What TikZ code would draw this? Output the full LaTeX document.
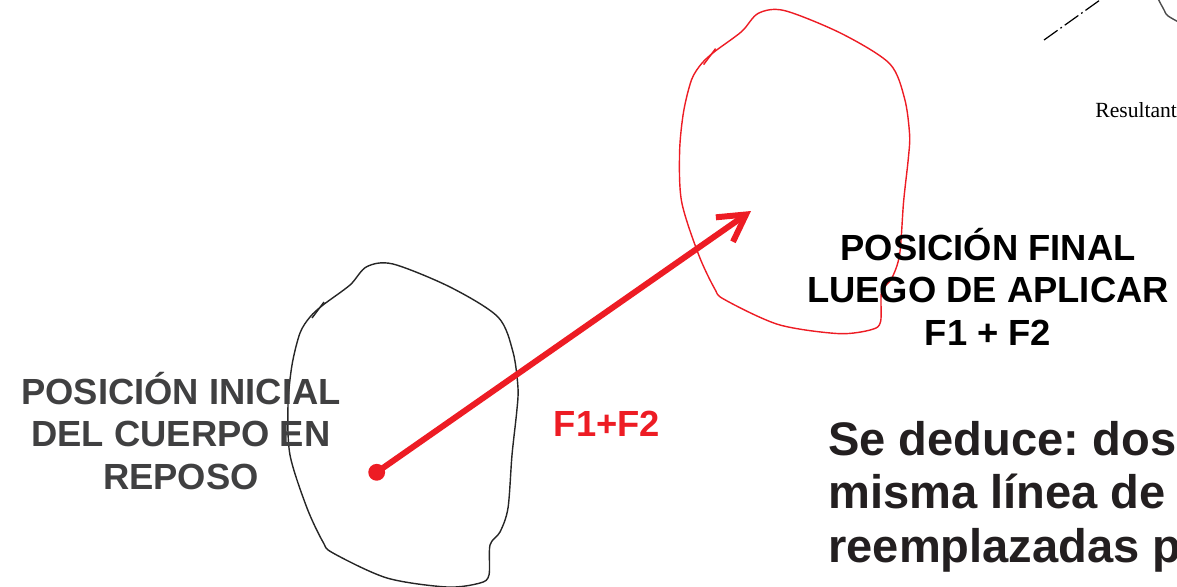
\documentclass[tikz,border=0pt]{standalone}
\usepackage{fontspec}
\setmainfont{Liberation Sans}
\newfontfamily\timesface{Liberation Serif}
\usepackage{xcolor}
\usetikzlibrary{arrows.meta}
\frenchspacing

\definecolor{forcered}{HTML}{ED1C24}
\definecolor{labelgray}{HTML}{404041}
\definecolor{inkblack}{HTML}{231F20}

\begin{document}
\begin{tikzpicture}[x=0.02cm,y=-0.02cm]
            \tikzset{outline/.style = {line width=0.8pt, line join=round}}
            \tikzset{force/.style = {forcered, line width=3.4pt, -{Straight Barb[length=15pt,width=17pt]}}}
            \tikzset{dot/.style = {circle, fill=forcered, inner sep=0pt, minimum size=9.6pt}}
            \tikzset{caption/.style = {font=\bfseries\fontsize{20.7}{24.1}\selectfont, align=center, inner sep=0pt, anchor=base}}
            \tikzset{body/.pic = {
              \draw[outline, pic actions] plot[smooth cycle, tension=0.5] coordinates {
                (366.7,266.7) (393,264) (450,287) (498,317) (513,352) (518,388)
                (516.7,412) (512,455) (508,508) (500,532) (490,545) (489,575)
                (480,583) (447,587) (387,578) (333,553) (323,542) (307,508)
                (290,455) (288,405) (292,365) (300,333) (310,317) (323,305) (350,285)};
              \draw[outline, pic actions] (312,318) -- (324,302);
            }}

            \useasboundingbox (0,0) rectangle (1177,586);
            \clip (0,0) rectangle (1177,586);

            % bodies: at rest, after the push, and the one cut off above
            \pic[black!85] at (0,0) {body};
            \pic[forcered] at (391.6,-253.4) {body};
            \pic[black!70] at (840,-534) {body};

            % line of action, dash-dot
            \coordinate (axisA) at (1044,40);
            \coordinate (axisB) at (1128,-20);
            \draw[line width=0.7pt, dash pattern=on 9.5pt off 2pt on 1pt off 2pt] (axisA) -- (axisB);

            % resultant force
            \node[dot] (rest) at (376.7,472.3) {};
            \coordinate (reach) at (751,211);
            \draw[force] (rest.center) -- (reach);

            % labels (base = last line)
            \node[caption, text=labelgray] (startlabel) at (181,489) {POSICIÓN INICIAL\\DEL CUERPO EN\\REPOSO};
            \node[caption] (endlabel) at (988,345) {POSICIÓN FINAL\\LUEGO DE APLICAR\\F1 + F2};
            \node[caption, text=forcered] (forcelabel) at (607,436) {F1+F2};
            \node[font=\bfseries\fontsize{26.8}{30.2}\selectfont, text=inkblack, align=left, inner sep=0pt, anchor=base west] (conclusion) at (828,562) {Se deduce: dos\\misma línea de\\reemplazadas p};
            \node[font=\timesface\fontsize{12.3}{14}\selectfont, inner sep=0pt, anchor=base west] (resultlabel) at (1095,117) {Resultant};

          \end{tikzpicture}
\end{document}
